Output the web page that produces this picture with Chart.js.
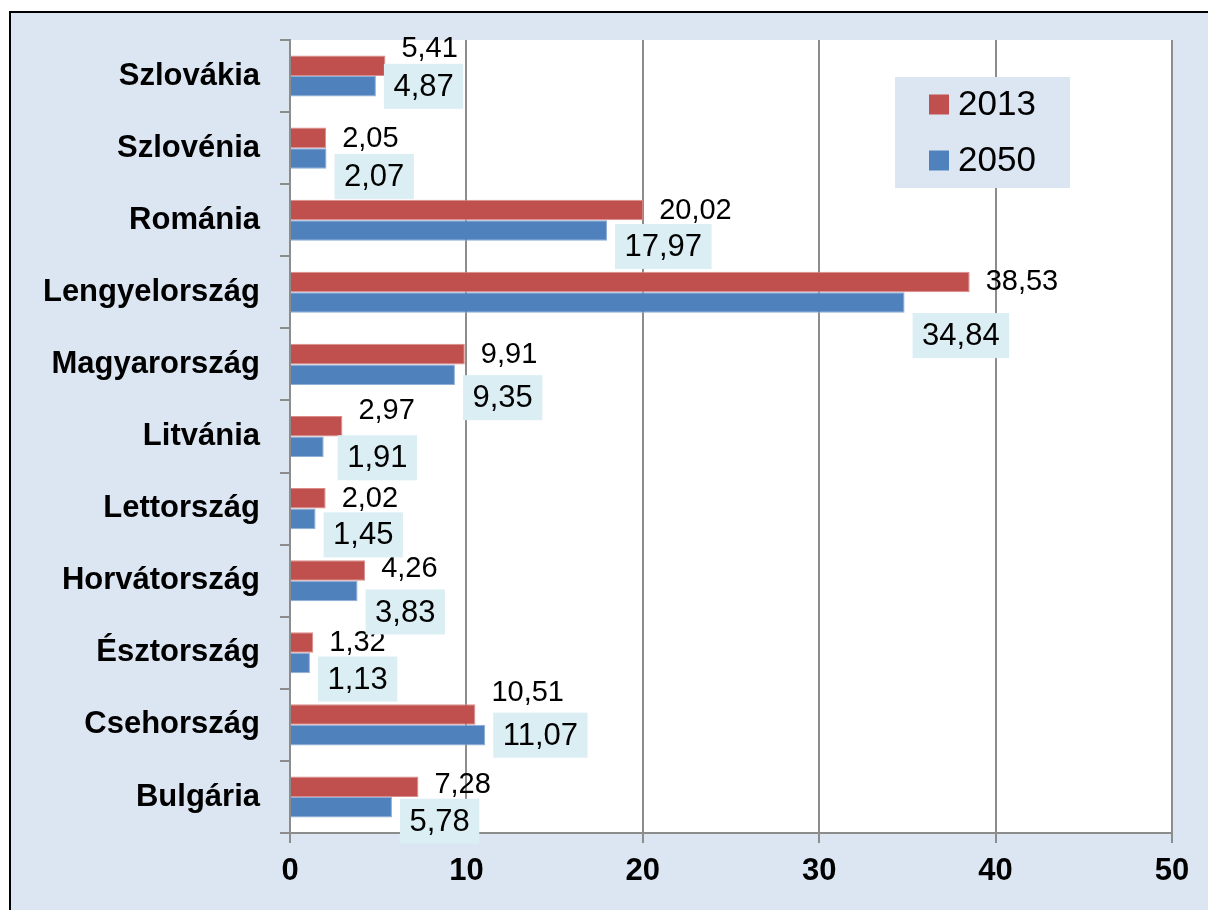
<!DOCTYPE html>
<html>
<head>
<meta charset="utf-8">
<script src="https://cdn.jsdelivr.net/npm/chart.js@4/dist/chart.umd.min.js"></script>
<style>
  html, body { margin: 0; padding: 0; background: #ffffff; width: 1208px; height: 910px; overflow: hidden; }
  #frame { position: absolute; left: 9px; top: 11px; width: 1300px; height: 1000px;
           border-left: 2px solid #000; border-top: 2px solid #000; background: #dce6f2; }
  #wrap { position: absolute; left: 0; top: 0; width: 1208px; height: 910px; }
</style>
</head>
<body>
<div id="frame"></div>
<div id="wrap"><canvas id="c" width="1208" height="910"></canvas></div>
<script>
// ---- data ----
const categories = ['Szlovákia','Szlovénia','Románia','Lengyelország','Magyarország','Litvánia','Lettország','Horvátország','Észtország','Csehország','Bulgária'];
const seriesNames = ['2013','2050'];
const values2013 = [5.41, 2.05, 20.02, 38.53, 9.91, 2.97, 2.02, 4.26, 1.32, 10.51, 7.28];
const values2050 = [4.87, 2.07, 17.97, 34.84, 9.35, 1.91, 1.45, 3.83, 1.13, 11.07, 5.78];
const xTickValues = [0, 10, 20, 30, 40, 50];

// ---- label nudges (as placed in the original) ----
const nudge2013Y = [-17, 1, 1, 0, 1, -15, 1, -1, 1, -22, -2];
const nudge2050Y = [0, 18, 16, 33, 23, 11, 16, 21, 16, 0, 14];
const nudge2050X = [8, 8, 8, 8, 8, 14, 8, 8, 8, 8, 8];

const FONT = '"Liberation Sans", Arial, sans-serif';
const GRID = '#8c8c8c';
const fmt = v => v.toFixed(2).replace('.', ',');

const bgPlugin = {
  id: 'bg',
  beforeDraw(chart) {
    const {ctx, chartArea: a} = chart;
    ctx.save();
    ctx.fillStyle = '#ffffff';
    ctx.fillRect(a.left, a.top, a.right - a.left, a.bottom - a.top);
    ctx.restore();
  }
};

const labelPlugin = {
  id: 'vlabels',
  afterDatasetsDraw(chart) {
    const ctx = chart.ctx;
    ctx.save();
    ctx.textBaseline = 'middle';
    ctx.textAlign = 'left';
    // 2013 labels: plain text
    const m0 = chart.getDatasetMeta(0);
    ctx.font = '29px ' + FONT;
    ctx.fillStyle = '#000';
    m0.data.forEach((el, j) => {
      ctx.fillText(fmt(values2013[j]), el.x + 16, el.y + nudge2013Y[j]);
    });
    // 2050 labels: boxed
    const m1 = chart.getDatasetMeta(1);
    ctx.font = '31px ' + FONT;
    m1.data.forEach((el, j) => {
      const t = fmt(values2050[j]);
      const w = ctx.measureText(t).width + 19;
      const h = 45;
      const x = el.x + nudge2050X[j];
      const cy = el.y + nudge2050Y[j];
      ctx.fillStyle = '#daeef3';
      ctx.fillRect(x, cy - h / 2, w, h);
      ctx.fillStyle = '#000';
      ctx.fillText(t, x + 9.5, cy + 1);
    });
    ctx.restore();
  },
  afterDraw(chart) {
    const ctx = chart.ctx;
    ctx.save();
    const lx = 895, ly = 77, lw = 175, lh = 111;
    ctx.fillStyle = '#dce6f2';
    ctx.fillRect(lx, ly, lw, lh);
    ctx.font = '35px ' + FONT;
    ctx.textBaseline = 'middle';
    ctx.textAlign = 'left';
    chart.data.datasets.forEach((ds, i) => {
      const cy = 104.5 + i * 56;
      ctx.fillStyle = ds.backgroundColor;
      ctx.fillRect(929, cy - 10, 20, 20);
      ctx.fillStyle = '#000';
      ctx.fillText(ds.label, 958, cy + 1);
    });
    ctx.restore();
  }
};

new Chart(document.getElementById('c'), {
  type: 'bar',
  data: {
    labels: categories,
    datasets: [
      { label: seriesNames[0], data: values2013, backgroundColor: '#c0504d', borderColor: '#d98c8a', borderWidth: 1 },
      { label: seriesNames[1], data: values2050, backgroundColor: '#4f81bd', borderColor: '#8eaed6', borderWidth: 1 }
    ]
  },
  options: {
    indexAxis: 'y',
    responsive: false,
    animation: false,
    events: [],
    categoryPercentage: 0.57,
    barPercentage: 1.0,
    layout: { padding: { left: 0, top: 40, right: 36, bottom: 0 } },
    plugins: { legend: { display: false }, tooltip: { enabled: false } },
    scales: {
      x: {
        min: 0, max: 50,
        afterBuildTicks: s => { s.ticks = xTickValues.map(v => ({ value: v })); },
        afterFit: s => { s.height = 77; },
        grid: { color: GRID, lineWidth: 2, tickLength: 10, drawTicks: true },
        border: { display: true, color: GRID, width: 2 },
        ticks: { padding: 10, color: '#000', font: { family: FONT, size: 31, weight: 'bold' } }
      },
      y: {
        afterFit: s => { s.width = 290; },
        grid: { display: true, drawOnChartArea: false, offset: true, color: GRID, lineWidth: 2, tickLength: 10 },
        border: { display: true, color: GRID, width: 2 },
        ticks: { autoSkip: false, padding: 20, color: '#000', font: { family: FONT, size: 31, weight: 'bold' } }
      }
    }
  },
  plugins: [bgPlugin, labelPlugin]
});
</script>
</body>
</html>
